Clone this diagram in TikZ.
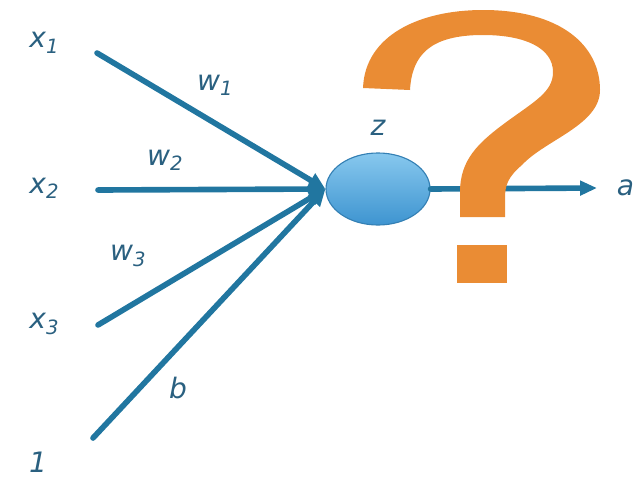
\documentclass[tikz,border=0pt]{standalone}
\usepackage{fontspec}
\setmainfont{DejaVu Sans}
\usetikzlibrary{arrows.meta,positioning,shapes.geometric}

\definecolor{wireblue}{RGB}{33,118,160}
\definecolor{lblblue}{RGB}{42,96,128}
\definecolor{qorange}{RGB}{234,140,52}
\newcommand\lsub[1]{\raisebox{-0.35ex}{\fontsize{14}{14}\selectfont #1}}

\tikzset{
  wire/.style={line width=4pt, draw=wireblue, line cap=round},
  lbl/.style={text=lblblue, font=\fontsize{20}{24}\selectfont\itshape},
}

\begin{document}
\begin{tikzpicture}[x=0.025cm,y=-0.025cm]
    \useasboundingbox (0,0) rectangle (636,480);

    % Inputs
    \coordinate (in1) at (97,53);
    \coordinate (in2) at (98,190);
    \coordinate (in3) at (98,325);
    \coordinate (in0) at (93,438);
    \node[lbl] (x1) at (44,43) {x\lsub{1}};
    \node[lbl] (x2) at (44,188) {x\lsub{2}};
    \node[lbl] (x3) at (44,324) {x\lsub{3}};
    \node[lbl] (one) at (38,462) {1};

    % Neuron
    \node[ellipse, minimum width=2.6cm, minimum height=1.8cm,
          top color={rgb,255:red,135;green,200;blue,238},
          bottom color={rgb,255:red,62;green,148;blue,208},
          draw={rgb,255:red,52;green,128;blue,180}, thick] (z) at (378,189) {};
    \node[lbl] (zlbl) at (378,128) {z};

    % Weighted inputs
    \draw[wire,-{Triangle[length=12pt,width=11pt]}] (in1) -- (z.west);
    \draw[wire,-{Triangle[length=12pt,width=11pt]}] (in2) -- (z.west);
    \draw[wire,-{Triangle[length=12pt,width=11pt]}] (in3) -- (z.west);
    \draw[wire,-{Triangle[length=12pt,width=11pt]}] (in0) -- (z.west);
    \node[lbl] (w1) at (215,85) {w\lsub{1}};
    \node[lbl] (w2) at (165,160) {w\lsub{2}};
    \node[lbl] (w3) at (128,256) {w\lsub{3}};
    \node[lbl] (b) at (178,388) {b};

    % Output
    \coordinate (out) at (597,188);
    \draw[wire,-{Triangle[length=12pt,width=10pt]}] (z.east) -- (out);
    \node[lbl, anchor=west] (a) at (612,188) {a};

    % Question mark
    \fill[qorange] (363,88) .. controls (365,35) and (420,10) .. (483,10)
        .. controls (560,10) and (600,45) .. (600,90)
        .. controls (600,125) and (545,140) .. (522,165)
        .. controls (508,177) and (505,185) .. (505,198) -- (505,217)
        -- (460,217) -- (460,192)
        .. controls (460,160) and (478,143) .. (505,123)
        .. controls (535,101) and (553,92) .. (553,72)
        .. controls (553,48) and (525,35) .. (483,35)
        .. controls (430,35) and (412,55) .. (410,90) -- cycle;
    \fill[qorange] (457,245) rectangle (507,283);
\end{tikzpicture}
\end{document}
